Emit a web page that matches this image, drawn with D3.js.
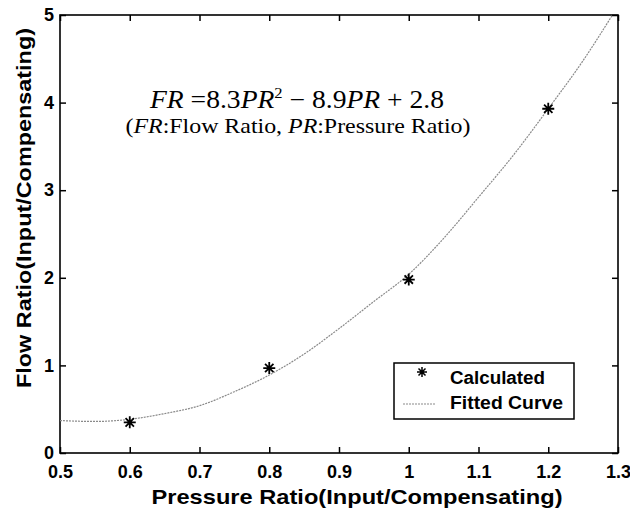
<!DOCTYPE html>
<html>
<head>
<meta charset="utf-8">
<script src="https://cdn.jsdelivr.net/npm/d3@7"></script>
<style>
	body { margin: 0; background: #fff; }
	svg text { font-family: "Liberation Sans", Arial, sans-serif; }
	.axis path { display: none; }
	.axis line { stroke: #000; stroke-width: 1.5; }
	.axis text { font-size: 18px; font-weight: bold; fill: #000; }
	.axis-label { font-size: 21px; font-weight: bold; text-anchor: middle; }
	.eq { font-family: "Liberation Serif", "Times New Roman", serif !important; text-anchor: middle; }
	.legend text { font-size: 18px; font-weight: bold; }
</style>
</head>
<body>
<div id="chart"></div>
<script>
// calculated points
const calcPR = [0.6, 0.8, 1.0, 1.2];
const calcFR = [0.35, 0.97, 1.98, 3.93];

// fitted curve
const fitPR = [0.50, 0.55, 0.60, 0.65, 0.70, 0.75, 0.80, 0.85, 0.90, 0.95, 1.00, 1.05, 1.10, 1.15, 1.20, 1.25, 1.292];
const fitFR = [0.37, 0.36, 0.385, 0.45, 0.54, 0.70, 0.89, 1.13, 1.42, 1.73, 2.04, 2.45, 2.92, 3.40, 3.93, 4.48, 5.0];

const xTicks = [0.5, 0.6, 0.7, 0.8, 0.9, 1, 1.1, 1.2, 1.3];
const yTicks = [0, 1, 2, 3, 4, 5];

(() => {
	const margin = { top: 15, right: 12, bottom: 63, left: 60 };
	const width = 630 - margin.left - margin.right;
	const height = 516 - margin.top - margin.bottom;

	const svg = d3.select('#chart').append('svg')
		.attr('width', 630)
		.attr('height', 516);
	const chart = svg.append('g')
		.attr('transform', `translate(${margin.left}, ${margin.top})`);

	const x = d3.scaleLinear().domain([0.5, 1.3]).range([0, width]);
	const y = d3.scaleLinear().domain([0, 5]).range([height, 0]);

	// axes, ticks pointing inward
	chart.append('g')
		.attr('class', 'x axis')
		.attr('transform', `translate(0, ${height})`)
		.call(d3.axisBottom(x).tickValues(xTicks).tickSizeInner(-6).tickSizeOuter(0).tickPadding(12)
			.tickFormat(d => String(+d.toFixed(1))));
	chart.append('g')
		.attr('class', 'x axis')
		.call(d3.axisTop(x).tickValues(xTicks).tickSizeInner(-6).tickSizeOuter(0).tickFormat(''));
	chart.append('g')
		.attr('class', 'y axis')
		.call(d3.axisLeft(y).tickValues(yTicks).tickSizeInner(-6).tickSizeOuter(0).tickPadding(6)
			.tickFormat(d3.format('d')));
	chart.append('g')
		.attr('class', 'y axis')
		.attr('transform', `translate(${width}, 0)`)
		.call(d3.axisRight(y).tickValues(yTicks).tickSizeInner(-6).tickSizeOuter(0).tickFormat(''));

	// frame
	chart.append('rect')
		.attr('width', width)
		.attr('height', height)
		.attr('fill', 'none')
		.attr('stroke', '#000')
		.attr('stroke-width', 1.6);

	// fitted curve
	const line = d3.line()
		.x((d, i) => x(fitPR[i]))
		.y(d => y(d))
		.curve(d3.curveMonotoneX);
	chart.append('path')
		.datum(fitFR)
		.attr('d', line)
		.attr('fill', 'none')
		.attr('stroke', '#8a8a8a')
		.attr('stroke-width', 1.2)
		.attr('stroke-dasharray', '2,1');

	// asterisk marker
	const star = (r) => {
		const a = r * 0.7;
		return `M0,${-r}V${r}M${-r},0H${r}M${-a},${-a}L${a},${a}M${-a},${a}L${a},${-a}`;
	};
	chart.selectAll('.marker')
		.data(calcFR)
		.enter().append('path')
			.attr('class', 'marker')
			.attr('transform', (d, i) => `translate(${x(calcPR[i])}, ${y(d)})`)
			.attr('d', star(6))
			.attr('stroke', '#000')
			.attr('stroke-width', 1.8)
			.attr('fill', 'none');

	// equation
	const eq = chart.append('text')
		.attr('class', 'eq')
		.attr('x', 237)
		.attr('y', 93)
		.attr('textLength', 294)
		.attr('lengthAdjust', 'spacingAndGlyphs')
		.style('font-size', '25px');
	eq.append('tspan').style('font-style', 'italic').text('FR');
	eq.append('tspan').text(' =8.3');
	eq.append('tspan').style('font-style', 'italic').text('PR');
	eq.append('tspan').attr('dy', -10).style('font-size', '15px').text('2');
	eq.append('tspan').attr('dy', 10).text(' \u2212 8.9');
	eq.append('tspan').style('font-style', 'italic').text('PR');
	eq.append('tspan').text(' + 2.8');

	const eq2 = chart.append('text')
		.attr('class', 'eq')
		.attr('x', 238)
		.attr('y', 118)
		.attr('textLength', 345)
		.attr('lengthAdjust', 'spacingAndGlyphs')
		.style('font-size', '21px');
	eq2.append('tspan').text('(');
	eq2.append('tspan').style('font-style', 'italic').text('FR');
	eq2.append('tspan').text(':Flow Ratio, ');
	eq2.append('tspan').style('font-style', 'italic').text('PR');
	eq2.append('tspan').text(':Pressure Ratio)');

	// legend
	const legend = chart.append('g')
		.attr('class', 'legend')
		.attr('transform', 'translate(334, 348)');
	legend.append('rect')
		.attr('width', 180)
		.attr('height', 56)
		.attr('fill', '#fff')
		.attr('stroke', '#000')
		.attr('stroke-width', 1.5);
	legend.append('path')
		.attr('transform', 'translate(28, 9)')
		.attr('d', star(5))
		.attr('stroke', '#000')
		.attr('stroke-width', 1.5);
	legend.append('text').attr('x', 56).attr('y', 21)
		.attr('textLength', 95).attr('lengthAdjust', 'spacingAndGlyphs')
		.text('Calculated');
	legend.append('line')
		.attr('x1', 9).attr('x2', 42)
		.attr('y1', 41).attr('y2', 41)
		.attr('stroke', '#8a8a8a')
		.attr('stroke-width', 1.2)
		.attr('stroke-dasharray', '2,1');
	legend.append('text').attr('x', 56).attr('y', 46)
		.attr('textLength', 113).attr('lengthAdjust', 'spacingAndGlyphs')
		.text('Fitted Curve');

	// axis labels
	svg.append('text')
		.attr('class', 'axis-label')
		.attr('x', 357)
		.attr('y', 504)
		.attr('textLength', 411)
		.attr('lengthAdjust', 'spacingAndGlyphs')
		.text('Pressure Ratio(Input/Compensating)');
	svg.append('text')
		.attr('class', 'axis-label')
		.attr('transform', 'rotate(-90)')
		.attr('x', -208)
		.attr('y', 31)
		.attr('textLength', 360)
		.attr('lengthAdjust', 'spacingAndGlyphs')
		.text('Flow Ratio(Input/Compensating)');
})();
</script>
</body>
</html>
